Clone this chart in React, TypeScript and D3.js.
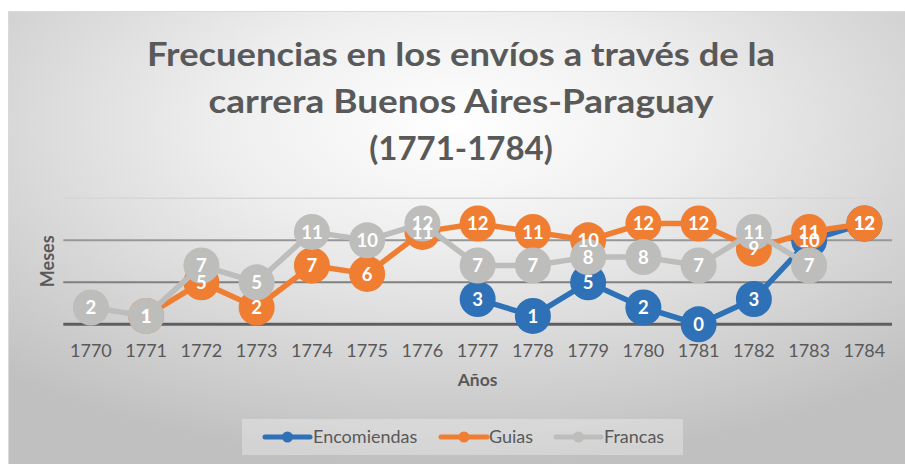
import * as d3 from "d3";

const years = ["1770", "1771", "1772", "1773", "1774", "1775", "1776", "1777", "1778", "1779", "1780", "1781", "1782", "1783", "1784"];
const encomiendas: (number | null)[] = [null, null, null, null, null, null, null, 3, 1, 5, 2, 0, 3, 10, 12];
const guias: (number | null)[] = [null, 1, 5, 2, 7, 6, 11, 12, 11, 10, 12, 12, 9, 11, 12];
const francas: (number | null)[] = [2, 1, 7, 5, 11, 10, 12, 7, 7, 8, 8, 7, 11, 7, null];
const gridTicks = [0, 5, 10, 15];
const titleLines = ["Frecuencias en los envíos a través de la", "carrera Buenos Aires-Paraguay", "(1771-1784)"];
// rendered widths of the first two title lines in the reference
const titleWidths = [628, 505, 0];

const series = [
  { name: "Encomiendas", values: encomiendas, color: "#2E71B7" },
  { name: "Guias", values: guias, color: "#EF7E33" },
  { name: "Francas", values: francas, color: "#BDBDBB" },
];

const W = 905;
const H = 464;
const font = "Lato, 'Open Sans', sans-serif";
const textGray = "#595959";

const App = () => {
  const x = d3.scaleBand().domain(years).range([63.3, 892]).padding(0);
  const y = d3.scaleLinear().domain([0, 15]).range([324.3, 198.3]);
  const cx = (yr: string) => (x(yr) ?? 0) + x.bandwidth() / 2;

  const line = d3
    .line<number | null>()
    .defined((d) => d != null)
    .x((_, i) => cx(years[i]))
    .y((d) => y(d as number));

  const gridStyle: Record<number, { stroke: string; w: number }> = {
    0: { stroke: "#5f5f5f", w: 3 },
    5: { stroke: "#808080", w: 2 },
    10: { stroke: "#979797", w: 2 },
    15: { stroke: "#d6d6d6", w: 1.5 },
  };

  const legendItems = [
    { x1: 265, x2: 310, tx: 313 },
    { x1: 441, x2: 487, tx: 489 },
    { x1: 556, x2: 601, tx: 604 },
  ];

  return (
    <div style={{ position: "absolute", left: 0, top: 0, width: W, height: H, background: "#fff" }}>
      <svg width={W} height={H} style={{ display: "block" }}>
        <defs>
          <radialGradient id="bg" cx="0.5" cy="0.25" r="0.75" gradientUnits="objectBoundingBox">
            <stop offset="0" stopColor="#ffffff" />
            <stop offset="0.35" stopColor="#eeeeee" />
            <stop offset="1" stopColor="#c0c0c0" />
          </radialGradient>
        </defs>

        {/* chart area */}
        <rect x={8} y={11} width={W - 8} height={H - 11} fill="url(#bg)" />
        <line x1={8} x2={W} y1={11.5} y2={11.5} stroke="#d9d9d9" strokeWidth={1} />
        <line x1={8.5} x2={8.5} y1={11} y2={H} stroke="#d9d9d9" strokeWidth={1} />

        {/* title */}
        {titleLines.map((t, i) => (
          <text
            key={i}
            x={461}
            y={66 + i * 47}
            textAnchor="middle"
            fontFamily={font}
            fontWeight={700}
            fontSize={33}
            textLength={titleWidths[i] || undefined}
            lengthAdjust={titleWidths[i] ? "spacingAndGlyphs" : undefined}
            fill={textGray}
          >
            {t}
          </text>
        ))}

        {/* gridlines */}
        {gridTicks.map((t) => (
          <line
            key={t}
            x1={x.range()[0]}
            x2={x.range()[1]}
            y1={y(t)}
            y2={y(t)}
            stroke={gridStyle[t].stroke}
            strokeWidth={gridStyle[t].w}
          />
        ))}

        {/* x tick labels */}
        {years.map((yr) => (
          <text
            key={yr}
            x={cx(yr)}
            y={351}
            dy="0.35em"
            textAnchor="middle"
            fontFamily={font}
            fontSize={18}
            fill={textGray}
          >
            {yr}
          </text>
        ))}

        {/* axis titles */}
        <text x={477.6} y={380} dy="0.35em" textAnchor="middle" fontFamily={font} fontWeight={700} fontSize={17.5} fill={textGray}>
          Años
        </text>
        <text
          transform={`translate(48,${(y(0) + y(15)) / 2}) rotate(-90)`}
          dy="0.35em"
          textAnchor="middle"
          fontFamily={font}
          fontWeight={700}
          fontSize={18}
          fill={textGray}
        >
          Meses
        </text>

        {/* series lines and markers */}
        {series.map((s) => (
          <g key={s.name}>
            <path d={line(s.values) ?? ""} fill="none" stroke={s.color} strokeWidth={5.5} strokeLinejoin="round" />
            {s.values.map((v, i) =>
              v == null ? null : <circle key={i} cx={cx(years[i])} cy={y(v)} r={18} fill={s.color} />
            )}
          </g>
        ))}

        {/* data labels */}
        {series.map((s) => (
          <g key={s.name + "-lbl"}>
            {s.values.map((v, i) =>
              v == null ? null : (
                <text
                  key={i}
                  x={cx(years[i])}
                  y={y(v)}
                  dy="0.36em"
                  textAnchor="middle"
                  fontFamily={font}
                  fontWeight={700}
                  fontSize={18.5}
                  fill="#ffffff"
                >
                  {v}
                </text>
              )
            )}
          </g>
        ))}

        {/* legend */}
        <rect x={242} y={419} width={441} height={36} fill="#ffffff" opacity={0.3} />
        {series.map((s, i) => {
          const it = legendItems[i];
          return (
            <g key={s.name + "-leg"}>
              <line x1={it.x1} x2={it.x2} y1={437} y2={437} stroke={s.color} strokeWidth={5} strokeLinecap="round" />
              <circle cx={(it.x1 + it.x2) / 2} cy={437} r={5.5} fill={s.color} />
              <text x={it.tx} y={437} dy="0.35em" fontFamily={font} fontSize={18} fill={textGray}>
                {s.name}
              </text>
            </g>
          );
        })}
      </svg>
    </div>
  );
};

export default App;
